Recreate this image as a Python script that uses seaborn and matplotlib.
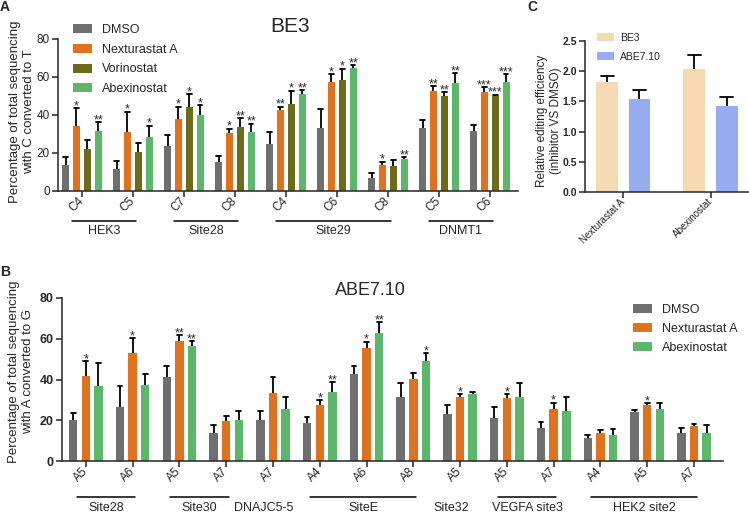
import numpy as np
import pandas as pd
import matplotlib
matplotlib.use("Agg")
import matplotlib.pyplot as plt
import matplotlib.transforms as mtransforms
import seaborn as sns

# ---------------- Panel A: BE3 ----------------
a_site = ["HEK3", "HEK3", "Site28", "Site28", "Site29", "Site29", "Site29", "DNMT1", "DNMT1"]
a_pos = ["C4", "C5", "C7", "C8", "C4", "C6", "C8", "C5", "C6"]
a_treat = ["DMSO", "Nexturastat A", "Vorinostat", "Abexinostat"]
a_dmso = [13.5, 11.6, 23.7, 15.4, 24.7, 33.3, 7.0, 33.3, 31.4]
a_dmso_err = [4.6, 4.2, 5.8, 3.2, 6.3, 9.7, 2.6, 3.9, 3.2]
a_nex = [34.2, 31.1, 37.9, 30.4, 42.6, 57.5, 13.7, 52.6, 52.1]
a_nex_err = [9.3, 10.7, 6.5, 2.4, 1.8, 4.1, 1.7, 2.7, 2.5]
a_vor = [22.1, 20.5, 44.2, 33.7, 45.8, 58.6, 13.2, 50.2, 49.8]
a_vor_err = [4.7, 4.6, 6.9, 4.7, 7.0, 5.8, 3.1, 1.7, 0.9]
a_abex = [31.8, 28.4, 40.0, 31.1, 50.9, 64.6, 16.8, 56.8, 57.4]
a_abex_err = [4.3, 6.0, 5.3, 4.3, 2.1, 1.7, 1.1, 5.1, 4.2]
a_dmso_sig = [""] * 9
a_nex_sig = ["*", "*", "*", "*", "**", "*", "*", "**", "***"]
a_vor_sig = ["", "", "*", "**", "*", "*", "", "**", "***"]
a_abex_sig = ["**", "*", "*", "**", "**", "**", "**", "**", "***"]

# ---------------- Panel B: ABE7.10 ----------------
b_site = ["Site28", "Site28", "Site30", "Site30", "DNAJC5-5", "SiteE", "SiteE", "SiteE",
          "Site32", "VEGFA site3", "VEGFA site3", "HEK2 site2", "HEK2 site2", "HEK2 site2"]
b_pos = ["A5", "A6", "A5", "A7", "A7", "A4", "A6", "A8", "A5", "A5", "A7", "A4", "A5", "A7"]
b_treat = ["DMSO", "Nexturastat A", "Abexinostat"]
b_dmso = [20.3, 26.7, 41.2, 13.6, 20.0, 18.5, 42.6, 31.3, 22.9, 21.3, 16.2, 11.3, 23.9, 13.9]
b_dmso_err = [3.4, 10.1, 5.3, 3.9, 4.5, 3.3, 4.0, 6.8, 4.6, 5.2, 2.8, 1.6, 1.1, 2.5]
b_nex = [41.9, 53.0, 58.9, 19.5, 33.2, 27.7, 55.3, 40.1, 31.6, 30.9, 25.4, 13.9, 27.3, 17.0]
b_nex_err = [7.0, 7.2, 3.0, 2.6, 7.9, 2.2, 3.3, 3.1, 1.3, 2.0, 3.2, 1.3, 1.2, 1.0]
b_abex = [36.7, 37.3, 56.6, 20.0, 25.5, 33.9, 63.0, 49.1, 32.9, 31.6, 24.7, 12.9, 25.4, 13.9]
b_abex_err = [11.6, 5.3, 2.3, 4.7, 5.9, 4.9, 5.2, 3.8, 1.1, 6.7, 6.6, 3.0, 2.9, 3.6]
b_dmso_sig = [""] * 14
b_nex_sig = ["*", "*", "**", "", "", "*", "*", "", "*", "*", "*", "", "*", ""]
b_abex_sig = ["", "", "**", "", "", "**", "**", "*", "", "", "", "", "", ""]

# ---------------- Panel C: relative efficiency ----------------
c_inhib = ["Nexturastat A", "Abexinostat"]
c_editor = ["BE3", "ABE7.10"]
c_be3 = [1.82, 2.04]
c_be3_err = [0.10, 0.23]
c_abe = [1.54, 1.43]
c_abe_err = [0.15, 0.14]

colors = {"DMSO": "#6f6f6f", "Nexturastat A": "#e0721f", "Vorinostat": "#6b6b1a",
          "Abexinostat": "#5db76b", "BE3": "#f5d9b1", "ABE7.10": "#96aef0"}

sns.set_style("ticks")
plt.rcParams["font.family"] = ["Liberation Sans", "DejaVu Sans"]
plt.rcParams["axes.linewidth"] = 1.1

W, H = 749, 515
fig = plt.figure(figsize=(W / 100, H / 100), dpi=100)


def px_axes(l, t, r, b):
    return fig.add_axes([l / W, 1 - b / H, (r - l) / W, (b - t) / H])


def long_frame(keys, series, names):
    rows = []
    for name, vals in zip(names, series):
        for k, v in zip(keys, vals):
            rows.append({"key": k, "treat": name, "value": v})
    return pd.DataFrame(rows)


def draw_bars(ax, keys, names, series, errs, sigs, width, gap, cap_frac=0.28):
    df = long_frame(keys, series, names)
    sns.barplot(data=df, x="key", y="value", hue="treat", order=keys, hue_order=names,
                palette=[colors[n] for n in names], width=width, gap=gap,
                errorbar=None, saturation=1, linewidth=0, ax=ax)
    # upper-only error bars + significance stars
    for cont, err, sig in zip(ax.containers, errs, sigs):
        for bar, e, s in zip(cont, err, sig):
            x = bar.get_x() + bar.get_width() / 2
            top = bar.get_height()
            hw = bar.get_width() * cap_frac
            ax.plot([x, x], [top, top + e], color="black", lw=1.3, solid_capstyle="butt", zorder=3)
            ax.plot([x - hw, x + hw], [top + e, top + e], color="black", lw=1.3, zorder=3)
            if s:
                ax.annotate(s, (x, top + e), xytext=(0, -3), textcoords="offset points",
                            ha="center", va="bottom", fontsize=9)
    leg = ax.get_legend()
    handles = leg.legend_handles
    leg.remove()
    return handles


def group_labels(ax, sites, line_y, text_y, fontsize=9):
    trans = mtransforms.blended_transform_factory(ax.transData, ax.transAxes)
    start = 0
    for i in range(1, len(sites) + 1):
        if i == len(sites) or sites[i] != sites[start]:
            end = i - 1
            if end > start:
                x0, x1 = start - 0.2, end + 0.06
                ax.plot([x0, x1], [line_y, line_y], color="black", lw=1.1,
                        transform=trans, clip_on=False)
                xc = (x0 + x1) / 2
            else:
                xc = start - 0.2
            ax.text(xc, text_y, sites[start], transform=trans, ha="center", va="center",
                    fontsize=fontsize)
            start = i


def style_axis(ax, bold):
    sns.despine(ax=ax)
    ax.tick_params(axis="both", direction="out", length=4, width=1.1, pad=2)
    for t in ax.get_yticklabels():
        t.set_fontweight("bold" if bold else "normal")


# ----- Panel A -----
ax_a = px_axes(58, 39, 518, 191)
a_keys = [f"{s}|{p}" for s, p in zip(a_site, a_pos)]
h_a = draw_bars(ax_a, a_keys, a_treat, [a_dmso, a_nex, a_vor, a_abex],
                [a_dmso_err, a_nex_err, a_vor_err, a_abex_err],
                [a_dmso_sig, a_nex_sig, a_vor_sig, a_abex_sig], width=0.86, gap=0.32)
ax_a.set_ylim(0, 80)
ax_a.set_yticks([0, 20, 40, 60, 80])
ax_a.set_xlim(-0.47, 8.55)
ax_a.set_xticks(range(len(a_pos)))
ax_a.set_xticklabels(a_pos, rotation=45, ha="right", va="center", rotation_mode="anchor", fontsize=8.5)
ax_a.tick_params(axis="y", labelsize=8.5)
ax_a.set_xlabel("")
ax_a.set_ylabel("Percentage of total sequencing\nwith C converted to T", fontsize=9.5)
ax_a.yaxis.set_label_coords(-0.05, 0.52)
style_axis(ax_a, bold=False)
group_labels(ax_a, a_site, -0.197, -0.26, fontsize=9)
ax_a.text(0.505, 1.08, "BE3", transform=ax_a.transAxes, ha="center", va="center", fontsize=15)
fig.legend(h_a, a_treat, loc="upper left", bbox_to_anchor=(73 / W, 1 - 24 / H),
           frameon=False, fontsize=9, borderpad=0, borderaxespad=0,
           handlelength=1.5, handleheight=0.75, handletextpad=0.8, labelspacing=0.62)

# ----- Panel B -----
ax_b = px_axes(62, 298, 723, 461)
b_keys = [f"{s}|{p}|{i}" for i, (s, p) in enumerate(zip(b_site, b_pos))]
h_b = draw_bars(ax_b, b_keys, b_treat, [b_dmso, b_nex, b_abex],
                [b_dmso_err, b_nex_err, b_abex_err],
                [b_dmso_sig, b_nex_sig, b_abex_sig], width=0.81, gap=0.33)
ax_b.set_ylim(0, 80)
ax_b.set_yticks([0, 20, 40, 60, 80])
ax_b.set_xlim(-0.51, 13.62)
ax_b.set_xticks(range(len(b_pos)))
ax_b.set_xticklabels(b_pos, rotation=45, ha="right", va="center", rotation_mode="anchor", fontsize=8.5)
ax_b.tick_params(axis="y", labelsize=9)
ax_b.set_xlabel("")
ax_b.set_ylabel("Percentage of total sequencing\nwith A converted to G", fontsize=9.5)
ax_b.yaxis.set_label_coords(-0.042, 0.55)
style_axis(ax_b, bold=True)
group_labels(ax_b, b_site, -0.221, -0.288, fontsize=9)
ax_b.text(0.467, 1.043, "ABE7.10", transform=ax_b.transAxes, ha="center", va="center", fontsize=13)
fig.legend(h_b, b_treat, loc="upper left", bbox_to_anchor=(633 / W, 1 - 304 / H),
           frameon=False, fontsize=9, borderpad=0, borderaxespad=0,
           handlelength=1.5, handleheight=0.75, handletextpad=0.8, labelspacing=0.55)

# ----- Panel C -----
ax_c = px_axes(585, 41, 748, 192)
h_c = draw_bars(ax_c, c_inhib, c_editor, [c_be3, c_abe], [c_be3_err, c_abe_err],
                [["", ""], ["", ""]], width=0.74, gap=0.32, cap_frac=0.3)
ax_c.set_ylim(0, 2.5)
ax_c.set_yticks([0, 0.5, 1.0, 1.5, 2.0, 2.5])
ax_c.set_yticklabels(["0.0", "0.5", "1.0", "1.5", "2.0", "2.5"])
ax_c.set_xlim(-0.44, 1.43)
ax_c.set_xticks([0, 1])
ax_c.set_xticklabels(c_inhib, rotation=45, ha="right", va="center", rotation_mode="anchor", fontsize=7)
ax_c.tick_params(axis="y", labelsize=7.5)
ax_c.set_xlabel("")
ax_c.set_ylabel("Relative editing efficiency\n(inhibitor VS DMSO)", fontsize=8.5)
ax_c.yaxis.set_label_coords(-0.14, 0.47)
style_axis(ax_c, bold=True)
fig.legend(h_c, c_editor, loc="upper left", bbox_to_anchor=(597 / W, 1 - 33 / H),
           frameon=False, fontsize=7.5, borderpad=0, borderaxespad=0,
           handlelength=1.6, handleheight=0.8, handletextpad=0.6, labelspacing=0.85)

# panel letters
for letter, (x, y) in {"A": (5, 7), "B": (5, 272), "C": (532, 7)}.items():
    fig.text(x / W, 1 - y / H, letter, ha="center", va="center", fontsize=10, fontweight="bold")

fig.savefig("out.png", dpi=100)
